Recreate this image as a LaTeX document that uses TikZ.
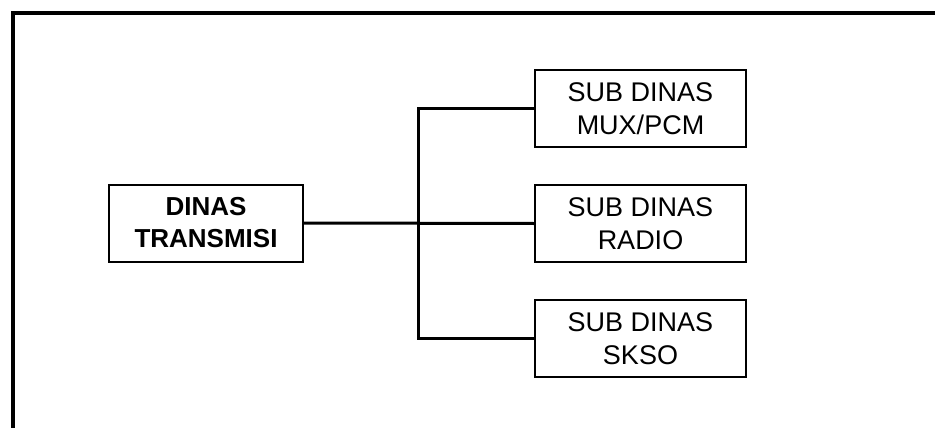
\documentclass[tikz,border=0pt]{standalone}
\usepackage{fontspec}
\setmainfont{Liberation Sans}
\begin{document}
\begin{tikzpicture}[x=1pt,y=-1pt,
  unitbox/.style={draw,line width=2pt,rectangle,align=center,inner sep=0pt,
    minimum height=77pt,font=\fontsize{27}{33}\selectfont},
  conn/.style={line width=3pt},
  frameline/.style={line width=3.5pt}]
\useasboundingbox (0,0) rectangle (935,428);
\draw[frameline] (13,430) -- (13,13) -- (937,13);
\node[unitbox,minimum width=194pt,font=\fontsize{26}{32}\selectfont\bfseries] (dinas) at (206,223) {DINAS\\TRANSMISI};
\node[unitbox,minimum width=211pt] (mux) at (640.5,108.5) {SUB DINAS\\MUX/PCM};
\node[unitbox,minimum width=211pt] (radio) at (640.5,223.5) {SUB DINAS\\RADIO};
\node[unitbox,minimum width=211pt] (skso) at (640.5,338.5) {SUB DINAS\\SKSO};
\coordinate (bus) at (418,223);
\draw[conn] (dinas.east) -- (radio.west);
\draw[conn] (mux.west) -| (bus) |- (skso.west);
\end{tikzpicture}
\end{document}
